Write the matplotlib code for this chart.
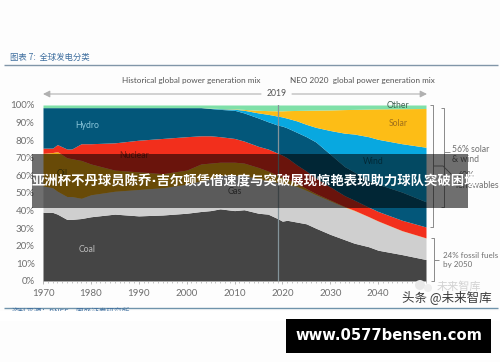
import matplotlib
matplotlib.use("Agg")
import matplotlib.pyplot as plt
from matplotlib.patches import Rectangle, Circle

years = [1970, 1972, 1973, 1975, 1976, 1978, 1980, 1985, 1990, 1995, 2000, 2003, 2005, 2007, 2010, 2012,
         2015, 2017, 2019, 2020, 2021, 2023, 2025, 2027, 2030, 2033, 2035, 2038, 2040, 2045, 2050]

# top edge of every band, in percent
coal_top = [39, 39, 38, 35, 35, 35.5, 36.5, 38, 37, 37.5, 38.5, 39.5, 40, 41, 40, 40.5,
            38.5, 38, 35.5, 34, 34.5, 33.5, 32.5, 30, 26.5, 23.5, 21.5, 19.5, 17.5, 15, 12.2]
gas_top = [54, 53, 51, 48, 48, 47, 49, 51, 52, 53, 55, 57, 58, 60, 60, 60,
           58, 57, 56, 55.5, 55, 53.8, 51.5, 49, 45.5, 42, 40, 36.5, 34, 28.5, 24.4]
oil_top = [72.5, 73, 73.5, 70, 69.5, 68.5, 66.5, 63, 62, 61, 63, 66.5, 67, 67.5, 67.5, 67,
           64.5, 62.5, 60, 59, 58, 55.5, 52.5, 49.7, 46, 42.3, 40.2, 36.6, 34.1, 28.6, 24.5]
nuclear_top = [75.5, 75.5, 77.5, 75, 75, 78, 78, 78.5, 80, 81, 82, 82.5, 82.5, 82, 81, 79.5,
               76.5, 75, 72.7, 71.5, 70, 66, 62.5, 58.5, 53.5, 48.5, 46, 42, 39.5, 34.5, 30.7]
hydro_top = [98.5, 98.5, 98.5, 98.5, 98.5, 98.5, 98.5, 98.5, 98.5, 98.5, 98.5, 98.5, 98, 97.5, 97, 95.5,
             92.6, 90.5, 88.6, 88, 87, 84.5, 82, 79, 72, 65, 62, 57, 55, 50.5, 45]
wind_top = [98.5, 98.5, 98.5, 98.5, 98.5, 98.5, 98.5, 98.5, 98.5, 98.5, 98.5, 98.5, 98.1, 97.9, 97.6, 97,
            95.5, 94.7, 93.7, 93.2, 92.5, 91, 89, 87.3, 85.5, 84, 83.5, 82, 80.5, 78, 76]
solar_top = [98.5, 98.5, 98.5, 98.5, 98.5, 98.5, 98.5, 98.5, 98.5, 98.5, 98.5, 98.5, 98.2, 98, 97.8, 97.5,
             97, 96.8, 96.7, 96.7, 96.8, 96.9, 97, 97.1, 97.2, 97.4, 97.5, 97.7, 97.8, 97.9, 98]
other_top = [100, 100, 100, 100, 100, 100, 100, 100, 100, 100, 100, 100, 100, 100, 100, 100,
             100, 100, 100, 100, 100, 100, 100, 100, 100, 100, 100, 100, 100, 100, 100]

bands = [coal_top, gas_top, oil_top, nuclear_top, hydro_top, wind_top, solar_top, other_top]
colors = ["#454545", "#cfcfcf", "#eeaa10", "#f22f1c", "#03577a", "#08a8e0", "#fdbd16", "#7fe0a8"]

year_ticks = [1970, 1980, 1990, 2000, 2010, 2020, 2030, 2040]
pct_ticks = [0, 10, 20, 30, 40, 50, 60, 70, 80, 90, 100]
marker_year = 2019

W, H = 500, 362
GREY = "#6f6f6f"
CJK = ["Noto Sans CJK SC", "DejaVu Sans"]
plt.rcParams["font.family"] = ["Lato", "DejaVu Sans"]

fig = plt.figure(figsize=(W / 100, H / 100), dpi=100, facecolor="#fdfdfd")

# chart axes, placed by pixel box
ax = fig.add_axes([43 / W, 1 - 281 / H, 383 / W, 176 / H])
bottom = [0] * len(years)
for top, color in zip(bands, colors):
    ax.fill_between(years, bottom, top, color=color, lw=0)
    bottom = top
ax.axvline(marker_year, color="#84949a", lw=0.9)
ax.set_xlim(1970, 2050)
ax.set_ylim(0, 100)
ax.set_xticks(year_ticks)
ax.set_xticks(range(1970, 2051), minor=True)
ax.set_yticks(pct_ticks)
ax.set_yticklabels([f"{p}%" for p in pct_ticks])
ax.tick_params(axis="x", which="major", length=2.5, width=0.6, color="#aaaaaa", labelsize=7, labelcolor=GREY, pad=3)
ax.tick_params(axis="x", which="minor", length=1.5, width=0.5, color="#aaaaaa")
ax.tick_params(axis="y", length=0, labelsize=7, labelcolor=GREY, pad=6)
for side in ["top", "right", "left"]:
    ax.spines[side].set_visible(False)
ax.spines["bottom"].set_color("#aaaaaa")
ax.spines["bottom"].set_linewidth(0.6)
ax.set_facecolor("none")

# overlay in pixel coordinates for everything around the chart
ov = fig.add_axes([0, 0, 1, 1], facecolor="none")
ov.set_xlim(0, W)
ov.set_ylim(H, 0)
ov.axis("off")


def label(x, y, s, color=GREY, size=6.2, ha="left", **kw):
    ov.text(x, y, s, color=color, fontsize=size, ha=ha, va="center", **kw)


def line(xs, ys, color="#8a8a8a", lw=0.7):
    ov.plot(xs, ys, color=color, lw=lw, solid_capstyle="butt")


# heading and rules
ov.text(10, 57, "图表 7:  全球发电分类", color="#3f6f9f", fontsize=6, style="italic", va="center", family=CJK)
line([4, 498], [64.5, 64.5], "#8196a8", 1)
line([4, 498], [308, 308], "#6f93ab", 1)
ov.text(12, 312, "资料来源：BNEF，国盛证券研究所", color="#3f6f9f", fontsize=5.5, va="center", family=CJK)
ov.add_patch(Rectangle((0, 310.5), W, 10, color="#ffffff", lw=0, zorder=3))

# header labels and arrows
label(122, 80, "Historical global power generation mix", "#555555", 5.9)
label(290, 80, "NEO 2020  global power generation mix", "#555555", 5.9)
label(277, 94, "2019", "#555555", 6.2, ha="center")
ov.annotate("", xy=(43, 94), xytext=(261, 94),
            arrowprops=dict(arrowstyle="-|>", color="#b0b0b0", lw=0.8, shrinkA=0, shrinkB=0))
ov.annotate("", xy=(427, 94), xytext=(292, 94),
            arrowprops=dict(arrowstyle="-|>", color="#b0b0b0", lw=0.8, shrinkA=0, shrinkB=0))

# band names
label(87, 126, "Hydro", "#8cc8dc", 6.2, ha="center")
label(134, 155, "Nuclear", "#7a1a10", 6.2, ha="center")
label(62, 174, "Oil", "#6a5a10", 6.2, ha="center")
label(235, 191, "Gas", "#555555", 6.2, ha="center")
label(87, 250, "Coal", "#bdbdbd", 6.2, ha="center")
label(373, 161, "Wind", "#055a7a", 6.2, ha="center")
label(398, 124, "Solar", "#a0701a", 6.2, ha="center")
label(398, 106, "Other", "#3f5f50", 6.2, ha="center")

# braces on the right
line([430, 433, 433, 430], [105, 105, 227, 227])
line([441, 444, 444, 441], [108, 108, 207, 207])
line([444, 450], [152, 152])
line([433, 443, 453], [166, 166, 176])
line([431, 434, 434, 431], [238, 238, 281, 281])
line([434, 439], [260, 260])
label(452, 149, "56% solar")
label(452, 159, "& wind")
label(457, 175, "60%")
label(455, 186, "renewables")
label(443, 256, "24% fossil fuels", size=5.8)
label(443, 265, "by 2050", size=5.8)

# watermarks
ov.add_patch(Circle((420, 285), 5, fc="#e8e8e8", ec="none"))
ov.add_patch(Circle((428, 288), 4, fc="#eeeeee", ec="none"))
ov.text(459, 287, "未来智库", color="#d2d2d2", fontsize=8, ha="center", va="center", family=CJK)
ov.text(447, 297, "头条 @未来智库", color="#3a3a3a", fontsize=9, ha="center", va="center", family=CJK, zorder=4)

# dark title strip, the dot comes from the latin font so it stays narrow
ov.add_patch(Rectangle((32, 154), 436, 54, color="#000000", alpha=0.56, lw=0, zorder=5))
ov.text(32, 182, "亚洲杯不丹球员陈乔·吉尔顿凭借速度与突破展现惊艳表现助力球队突破困境", color="white",
        fontsize=9.6, fontweight="bold", ha="left", va="center", zorder=6,
        family=["DejaVu Sans", "Noto Sans CJK SC"])

# url banner
ov.add_patch(Rectangle((286, 319), 205, 34, color="#000000", lw=0, zorder=5))
ov.text(388.5, 336, "www.0577bensen.com", color="white", fontsize=10.6, fontweight="bold",
        ha="center", va="center", zorder=6, family="DejaVu Sans")

fig.savefig("out.png", dpi=100, facecolor=fig.get_facecolor())
